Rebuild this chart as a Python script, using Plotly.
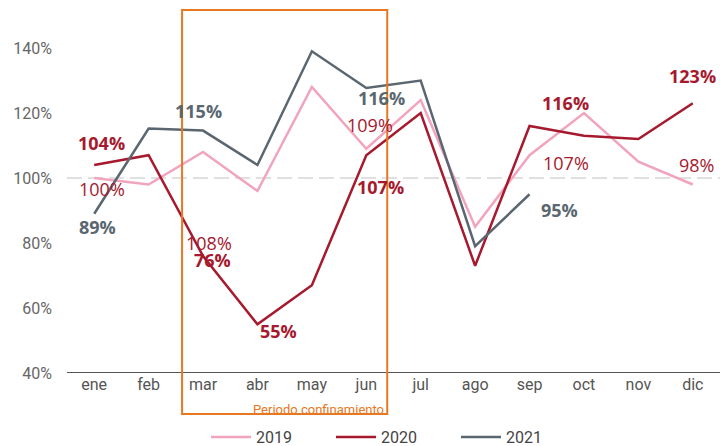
import plotly.graph_objects as go

months = ["ene", "feb", "mar", "abr", "may", "jun", "jul", "ago", "sep", "oct", "nov", "dic"]
v2019 = [100, 98, 108, 96, 128, 109, 124, 85, 107, 120, 105, 98]
v2020 = [104, 107, 76, 55, 67, 107, 120, 73, 116, 113, 112, 123]
v2021 = [89, 115.2, 114.6, 104, 139, 127.7, 130, 79, 95]
years = ["2019", "2020", "2021"]
colors = {"2019": "#F2A3BD", "2020": "#A6192E", "2021": "#5B6770"}
label_colors = {"2019": "#A6192E", "2020": "#A6192E", "2021": "#5B6770"}

# data labels: (series, month index, text, xshift, yshift, bold)
labels = [
    ("2020", 0, "104%", 7, 22, True),
    ("2020", 2, "76%", 9, -4, True),
    ("2020", 3, "55%", 21, -7, True),
    ("2020", 5, "107%", 14, -32, True),
    ("2020", 8, "116%", 36, 23, True),
    ("2020", 11, "123%", 0, 27, True),
    ("2019", 0, "100%", 8, -11, False),
    ("2019", 2, "108%", 6, -91, False),
    ("2019", 5, "109%", 4, 24, False),
    ("2019", 8, "107%", 36, -8, False),
    ("2019", 11, "98%", 4, 20, False),
    ("2021", 0, "89%", 3, -13, True),
    ("2021", 2, "115%", -5, 20, True),
    ("2021", 5, "116%", 15, -10, True),
    ("2021", 8, "95%", 30, -16, True),
]
series = {"2019": v2019, "2020": v2020, "2021": v2021}

fig = go.Figure()
for yr in years:
    vals = series[yr]
    fig.add_trace(go.Scatter(
        x=months[:len(vals)], y=vals, mode="lines", name=yr,
        line=dict(color=colors[yr], width=2.5), hoverinfo="skip",
    ))

# dashed 100% reference line
fig.add_hline(y=100, line=dict(color="#E0E0E0", width=2, dash="15px,6px"), layer="below")
# baseline at 40%
fig.add_hline(y=40, line=dict(color="#555555", width=2))

annotations = []
for yr, i, txt, xs, ys, bold in labels:
    annotations.append(dict(
        x=months[i], y=series[yr][i], xref="x", yref="y", text=f"<b>{txt}</b>" if bold else txt,
        showarrow=False, xshift=xs, yshift=ys,
        font=dict(family="Open Sans", size=18, color=label_colors[yr]),
    ))

# lockdown period box
fig.add_shape(type="rect", xref="x", yref="paper", x0=1.615, x1=5.385, y0=-0.113, y1=1.0,
              line=dict(color="#E87722", width=2), fillcolor="rgba(0,0,0,0)")
annotations.append(dict(
    x=5.37, y=-0.1, xref="x", yref="paper", text="Periodo confinamiento", showarrow=False,
    xanchor="right", yanchor="middle", font=dict(family="Roboto", size=13, color="#E87722"),
))

fig.update_layout(
    width=720, height=446, autosize=False,
    margin=dict(l=67, r=0, t=10, b=73),
    plot_bgcolor="white", paper_bgcolor="white",
    annotations=annotations,
    showlegend=True,
    legend=dict(orientation="h", x=0.5, xanchor="center", xref="paper",
                y=0.02, yanchor="middle", yref="container", entrywidth=70,
                font=dict(family="Roboto", size=16, color="#444444"), itemwidth=40),
    xaxis=dict(type="category", range=[-0.5, 11.5], showgrid=False, showline=False,
               ticks="", tickfont=dict(family="Roboto", size=16, color="#555555")),
    yaxis=dict(range=[40, 151.7], tickvals=[40, 60, 80, 100, 120, 140],
               ticktext=["40%", "60%", "80%", "100%", "120%", "140%"],
               showgrid=False, zeroline=False, showline=False, ticks="",
               ticklabelstandoff=14,
               tickfont=dict(family="Roboto", size=16, color="#666666")),
)

fig.write_html("out.html", config={"responsive": False, "displayModeBar": False},
               post_script="document.body.style.margin='0';document.body.style.overflow='hidden';")
